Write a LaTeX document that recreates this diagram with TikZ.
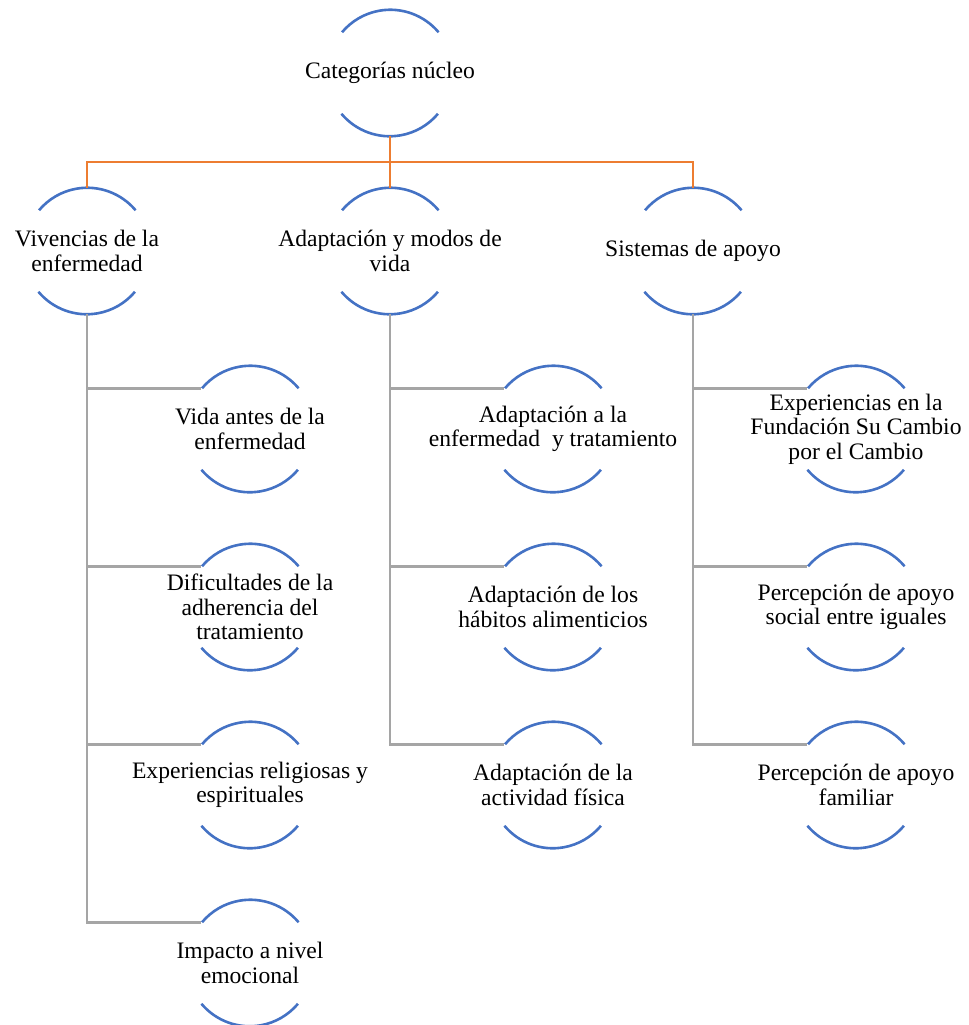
\documentclass[tikz,border=0pt]{standalone}
\usepackage{fontspec}
\setmainfont{Liberation Serif}

\definecolor{ringblue}{HTML}{4472C4}
\definecolor{busorange}{HTML}{ED7D31}
\definecolor{branchgray}{HTML}{A5A5A5}

\begin{document}
\begin{tikzpicture}[
        x=0.5pt,
        y=-0.5pt,
        ring/.style={
            circle,
            minimum size=63pt,
            inner sep=0pt,
        },
        ring-arc/.style={
            ringblue,
            line width=1.3pt,
        },
        link-main/.style={
            busorange,
            line width=1.1pt,
        },
        link-branch/.style={
            branchgray,
            line width=1.4pt,
        },
        caption/.style={
            align=center,
            font=\fontsize{11.8}{12.2}\selectfont,
        },
    ]

    \useasboundingbox (0,0) rectangle (969,1025);

    % Core category.
    \node[ring, label={[caption]center:Categorías núcleo}] (core) at (390,73) {};

    % Main categories.
    \node[ring, label={[caption]center:{Vivencias de la\\enfermedad}}] (vivencias) at (87,251) {};
    \node[ring, label={[caption]center:{Adaptación y modos de\\vida}}] (adaptacion) at (390,251) {};
    \node[ring, label={[caption]center:{Sistemas de apoyo}}] (sistemas) at (693,251) {};

    % Subcategories.
    \node[ring, label={[caption]center:{Vida antes de la\\enfermedad}}] (vida) at (250,429) {};
    \node[ring, label={[caption]center:{Dificultades de la\\adherencia del\\tratamiento}}] (dificultades) at (250,607) {};
    \node[ring, label={[caption]center:{Experiencias religiosas y\\espirituales}}] (religiosas) at (250,785) {};
    \node[ring, label={[caption]center:{Impacto a nivel\\emocional}}] (impacto) at (250,963) {};

    \node[ring, label={[caption]center:{Adaptación a la\\enfermedad\enspace y tratamiento}}] (tratamiento) at (553,429) {};
    \node[ring, label={[caption]center:{Adaptación de los\\hábitos alimenticios}}] (habitos) at (553,607) {};
    \node[ring, label={[caption]center:{Adaptación de la\\actividad física}}] (actividad) at (553,785) {};

    \node[ring, label={[caption]center:{Experiencias en la\\Fundación Su Cambio\\por el Cambio}}] (fundacion) at (856,429) {};
    \node[ring, label={[caption]center:{Percepción de apoyo\\social entre iguales}}] (iguales) at (856,607) {};
    \node[ring, label={[caption]center:{Percepción de apoyo\\familiar}}] (familiar) at (856,785) {};

    % Arcs round every node.
    \foreach \n in {core, vivencias, adaptacion, sistemas, vida, dificultades,
            religiosas, impacto, tratamiento, habitos, actividad, fundacion,
            iguales, familiar} {
        \draw[ring-arc] (\n.40) arc[start angle=40, end angle=140, radius=31.5pt];
        \draw[ring-arc] (\n.220) arc[start angle=220, end angle=320, radius=31.5pt];
    }

    % Orange bus.
    \coordinate (bus) at (390,162);
    \draw[link-main] (core.south) -- (bus);
    \foreach \c in {vivencias, adaptacion, sistemas}
    \draw[link-main] (bus) -| (\c.north);

    % Gray branches.
    \foreach \p/\c in {vivencias/vida, vivencias/dificultades, vivencias/religiosas,
            vivencias/impacto, adaptacion/tratamiento, adaptacion/habitos,
            adaptacion/actividad, sistemas/fundacion, sistemas/iguales,
            sistemas/familiar}
    \draw[link-branch] (\p.south) |- (\c.140);
\end{tikzpicture}
\end{document}
